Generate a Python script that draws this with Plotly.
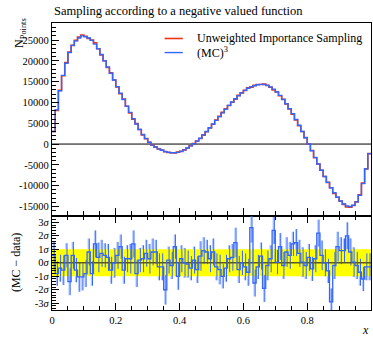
import plotly.graph_objects as go

# ---- data ----
mc_values = [3000, 8200, 12800, 16500, 19400, 22000, 23700, 24800, 25500, 26000,
             25800, 25500, 24900, 24000, 22900, 21500, 20000, 18500, 17000, 15400,
             13800, 12200, 10700, 9100, 7600, 6100, 4800, 3500, 2300, 1300,
             450, -250, -700, -1150, -1500, -1800, -2000, -2100, -2100, -2000,
             -1750, -1400, -950, -450, 100, 700, 1400, 2200, 3000, 3900,
             4800, 5700, 6600, 7500, 8400, 9300, 10100, 10900, 11600, 12300,
             12900, 13400, 13800, 14000, 14250, 14350, 14300, 14100, 13700, 13200,
             12500, 11700, 10700, 9700, 8500, 7300, 5900, 4500, 3000, 1500,
             0, -1600, -3200, -4800, -6300, -7800, -9200, -10500, -11700, -12800,
             -13700, -14400, -14900, -15000, -14700, -13900, -12300, -9500, -6000, -2300]

data_values = [3000, 8100, 12900, 16400, 19600, 22100, 23700, 24900, 25700, 26200,
               25900, 25400, 25000, 24300, 22900, 21400, 20000, 18400, 17100, 15400,
               13700, 12100, 10800, 9100, 7500, 6000, 4900, 3500, 2200, 1300,
               400, -250, -750, -1150, -1450, -1850, -2000, -2100, -2150, -1950,
               -1750, -1400, -950, -400, 100, 750, 1350, 2150, 2950, 3850,
               4750, 5750, 6650, 7600, 8450, 9250, 10050, 10800, 11700, 12300,
               12900, 13500, 13650, 14100, 14300, 14300, 14400, 14100, 13650, 13000,
               12500, 11600, 10750, 9650, 8450, 7200, 5800, 4400, 3000, 1550,
               0, -1550, -3300, -4800, -6300, -7800, -9200, -10500, -11900, -12800,
               -13750, -14500, -15100, -15200, -14750, -13900, -12200, -9400, -5950, -2300]

residuals = [0.55, -0.8, -0.4, -0.55, 0.55, -1.4, 0.55, -0.55, -1.05, -1.05,
             -0.8, 0.8, -0.8, 1.4, 0.4, 0.7, 0.55, 0.4, -0.55, 0.0,
             0.55, 1.2, -0.55, 0.3, 0.3, 1.4, -0.8, 0.2, 0.3, 0.7,
             0.3, 0.8, 0.8, -0.3, -0.3, -2.0, 0.2, -0.2, 1.2, -1.0,
             0.3, 0.0, -0.1, -0.4, 0.2, -0.5, 0.5, 0.9, 0.8, 0.3,
             0.8, -0.3, -0.5, -1.0, -0.4, 0.3, 0.4, 1.5, -0.5, 0.0,
             -0.3, -0.7, 2.6, -1.5, -0.3, 0.5, -1.9, -0.2, 0.3, 2.4,
             0.05, 1.2, -0.2, 0.8, 0.55, 1.4, 1.5, 0.7, 0.05, -0.2,
             0.4, -0.45, 0.3, 2.2, 0.55, 0.0, -0.6, -2.9, -0.2, 1.2,
             0.9, 0.9, 2.0, 0.8, 0.05, -0.2, -0.7, -1.2, -0.3, -0.3]

res_errors = [1.0, 0.9, 1.0, 1.1, 0.9, 1.0, 1.0, 0.9, 1.1, 1.0,
              1.0, 1.0, 0.9, 1.0, 1.1, 1.0, 0.9, 1.0, 1.0, 1.1,
              1.0, 0.9, 1.0, 1.0, 1.1, 1.0, 1.0, 0.9, 1.0, 1.0,
              1.1, 1.0, 0.9, 1.0, 1.0, 1.1, 1.0, 1.0, 0.9, 1.0,
              1.0, 1.1, 1.0, 0.9, 1.0, 1.0, 1.1, 1.0, 0.9, 1.0,
              1.0, 1.0, 1.1, 0.9, 1.0, 1.0, 1.0, 1.1, 1.0, 0.9,
              1.0, 1.0, 1.1, 1.0, 0.9, 1.0, 1.0, 1.1, 1.0, 1.0,
              0.9, 1.0, 1.0, 1.1, 1.0, 0.9, 1.0, 1.0, 1.1, 1.0,
              1.0, 0.9, 1.0, 1.0, 1.1, 1.0, 0.9, 1.0, 1.0, 1.1,
              1.0, 0.9, 1.0, 1.0, 1.1, 1.0, 1.0, 0.9, 1.0, 1.0]

x_ticks = [0, 0.2, 0.4, 0.6, 0.8, 1]
x_ticklabels = ["0", "0.2", "0.4", "0.6", "0.8", "1"]
y_ticks = [-15000, -10000, -5000, 0, 5000, 10000, 15000, 20000, 25000]
y_ticklabels = ["-15000", "-10000", "-5000", "0", "5000", "10000", "15000", "20000", "25000"]
r_ticks = [-3, -2, -1, 0, 1, 2, 3]
r_ticklabels = ["-3<i>σ</i>", "-2<i>σ</i>", "-1<i>σ</i>", "0<i>σ</i>",
                "1<i>σ</i>", "2<i>σ</i>", "3<i>σ</i>"]

title_text = "Sampling according to a negative valued function"
label_data = "Unweighted Importance Sampling"
label_mc = "(MC)<sup>3</sup>"

RED = "#EE3311"
BLUE = "#3366FF"
FONT = "Liberation Serif, DejaVu Serif, serif"

nb = len(mc_values)
edges = [i / nb for i in range(nb + 1)]
centers = [(edges[i] + edges[i + 1]) / 2 for i in range(nb)]
bw = 1.0 / nb

fig = go.Figure()

# main panel
fig.add_trace(go.Scatter(x=[0, 1], y=[0, 0], mode="lines",
                         line=dict(color="black", width=1), xaxis="x", yaxis="y",
                         hoverinfo="skip"))
fig.add_trace(go.Scatter(x=edges, y=data_values + [data_values[-1]], mode="lines",
                         line=dict(color=RED, width=1.6, shape="hv"),
                         xaxis="x", yaxis="y"))
fig.add_trace(go.Scatter(x=edges, y=mc_values + [mc_values[-1]], mode="lines",
                         line=dict(color=BLUE, width=1.4, shape="hv"),
                         xaxis="x", yaxis="y"))

# ratio panel
fig.add_trace(go.Scatter(x=[0, 1, 1, 0, 0], y=[-1, -1, 1, 1, -1], mode="lines",
                         fill="toself", fillcolor="#FFFF00", line=dict(width=0),
                         xaxis="x2", yaxis="y2", hoverinfo="skip"))
fig.add_trace(go.Bar(x=[c - 0.12 * bw for c in centers],
                     y=[2 * e for e in res_errors],
                     base=[r - e for r, e in zip(residuals, res_errors)],
                     width=0.45 * bw, marker=dict(color="rgba(80,130,255,0.45)", line=dict(width=0)),
                     xaxis="x2", yaxis="y2"))
fig.add_trace(go.Scatter(x=[c + 0.2 * bw for c in centers], y=residuals, mode="markers",
                         marker=dict(size=1, color="rgba(0,0,0,0)"),
                         error_y=dict(type="data", array=res_errors, color=BLUE,
                                      thickness=1, width=0),
                         xaxis="x2", yaxis="y2"))
fig.add_trace(go.Scatter(x=[0, 1], y=[0, 0], mode="lines",
                         line=dict(color="rgb(90,90,40)", width=1.6),
                         xaxis="x2", yaxis="y2"))
fig.add_trace(go.Scatter(x=edges, y=residuals + [residuals[-1]], mode="lines",
                         line=dict(color=BLUE, width=1.3, shape="hv"),
                         xaxis="x2", yaxis="y2"))

split = 0.329
axis_common = dict(showline=True, linecolor="black", linewidth=1.3, mirror=True,
                   showgrid=False, zeroline=False, ticks="inside", tickcolor="black",
                   tickfont=dict(family=FONT, size=10.5, color="black"))

fig.update_layout(
    width=373, height=337,
    margin=dict(l=52, r=2, t=23, b=27),
    paper_bgcolor="white", plot_bgcolor="white",
    showlegend=False, barmode="overlay",
    font=dict(family=FONT, color="black"),
    xaxis=dict(axis_common, domain=[0, 1], range=[0, 1], anchor="y",
               tickvals=x_ticks, ticktext=x_ticklabels, showticklabels=False,
               ticklen=7, tickwidth=1.2,
               minor=dict(dtick=0.05, ticklen=4, ticks="inside", tickcolor="black")),
    yaxis=dict(axis_common, domain=[split, 1], range=[-17187, 29087], anchor="x",
               tickvals=y_ticks, ticktext=y_ticklabels, ticklen=7, tickwidth=1.2,
               minor=dict(dtick=1000, ticklen=4, ticks="inside", tickcolor="black")),
    xaxis2=dict(axis_common, domain=[0, 1], range=[0, 1], anchor="y2",
                mirror="ticks", tickvals=x_ticks, ticktext=x_ticklabels,
                ticklen=7, tickwidth=1.2,
                minor=dict(dtick=0.05, ticklen=4, ticks="inside", tickcolor="black")),
    yaxis2=dict(axis_common, domain=[0, split], range=[-3.5, 3.5], anchor="x2",
                tickvals=r_ticks, ticktext=r_ticklabels, ticklen=7, tickwidth=1.2,
                minor=dict(dtick=0.2, ticklen=4, ticks="inside", tickcolor="black")),
)

annotations = [
    dict(text=title_text, xref="paper", yref="paper", x=0, y=1.012, xanchor="left",
         yanchor="bottom", showarrow=False, font=dict(family=FONT, size=12.5)),
    dict(text="N<sub>Points</sub>", xref="paper", yref="paper", x=-0.1, y=1.025,
         xanchor="center", yanchor="top", textangle=-90, showarrow=False,
         font=dict(family=FONT, size=12)),
    dict(text="(MC − data)", xref="paper", yref="paper", x=-0.115, y=split / 2,
         xanchor="center", yanchor="middle", textangle=-90, showarrow=False,
         font=dict(family=FONT, size=12)),
    dict(text="<i>x</i>", xref="paper", yref="paper", x=1.0, y=-0.07,
         xanchor="right", yanchor="middle", showarrow=False,
         font=dict(family=FONT, size=12)),
    dict(text=label_data, xref="paper", yref="paper", x=0.447, y=0.946,
         xanchor="left", yanchor="middle", showarrow=False,
         font=dict(family=FONT, size=12)),
    dict(text=label_mc, xref="paper", yref="paper", x=0.447, y=0.897,
         xanchor="left", yanchor="middle", showarrow=False,
         font=dict(family=FONT, size=12)),
]
fig.update_layout(annotations=annotations)

fig.add_shape(type="line", xref="paper", yref="paper", x0=0.353, x1=0.41,
              y0=0.946, y1=0.946, line=dict(color=RED, width=1.6))
fig.add_shape(type="line", xref="paper", yref="paper", x0=0.353, x1=0.41,
              y0=0.897, y1=0.897, line=dict(color=BLUE, width=1.4))

fig.write_html("out.html", config={"displayModeBar": False},
               post_script="document.body.style.margin='0';document.body.style.padding='0';")
